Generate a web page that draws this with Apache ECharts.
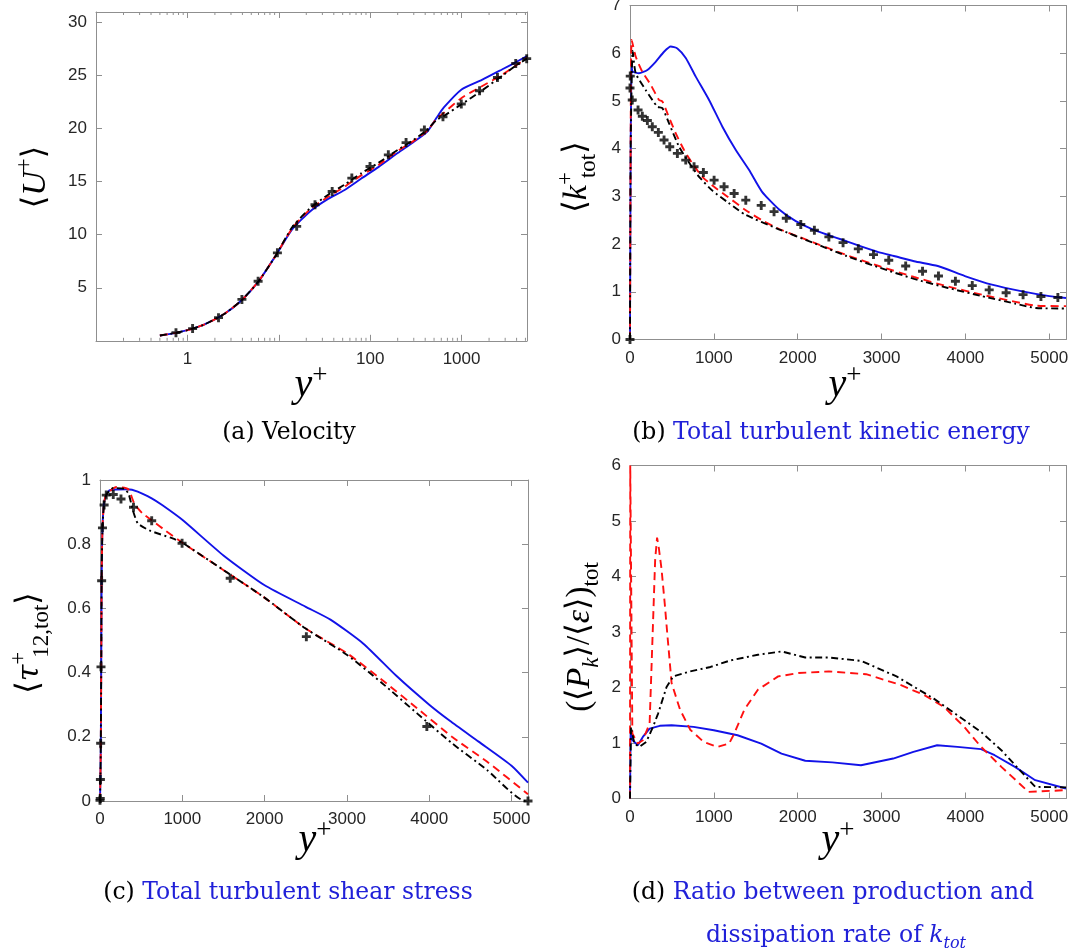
<!DOCTYPE html>
<html><head><meta charset="utf-8">
<script src="https://cdn.jsdelivr.net/npm/echarts@6/dist/echarts.min.js"></script>
<style>html,body{margin:0;padding:0;background:#fff}#c{width:1073px;height:949px}</style>
</head><body><div id="c"></div>
<script>
// ---------- Panel (a): mean velocity (log x) ----------
const A_X = [0.5, 0.75, 1, 1.5, 2.5, 3.9, 6, 9.2, 14, 22, 35, 52, 80, 124, 200, 294, 420, 530, 640, 1000, 1670, 2800, 4000, 5200];
const A_BLUE = [0.5, 0.75, 1.0, 1.5, 2.5, 3.8, 5.6, 8.0, 10.5, 12.2, 13.4, 14.2, 15.3, 16.4, 17.7, 18.7, 19.7, 21.0, 22.0, 23.7, 24.6, 25.6, 26.3, 26.85];
const A_RED  = [0.5, 0.75, 1.0, 1.5, 2.5, 3.8, 5.6, 8.0, 10.6, 12.4, 13.6, 14.5, 15.6, 16.6, 17.9, 18.8, 19.8, 20.9, 21.5, 22.9, 24.0, 25.1, 26.0, 26.7];
const A_BLACK= [0.5, 0.75, 1.0, 1.5, 2.5, 3.8, 5.6, 8.0, 10.7, 12.5, 13.8, 14.7, 15.8, 16.8, 18.0, 18.9, 19.9, 20.8, 21.2, 22.3, 23.6, 25.0, 26.0, 26.6];
const A_DNS_X = [0.75, 1.14, 2.19, 3.95, 5.94, 9.66, 15.7, 24.9, 38.4, 63, 99.6, 158, 247, 392, 626, 993, 1574, 2470, 3916, 5160];
const A_DNS_Y = [0.77, 1.15, 2.18, 3.9, 5.62, 8.29, 10.79, 12.83, 14.08, 15.34, 16.43, 17.53, 18.69, 19.88, 21.13, 22.32, 23.57, 24.83, 26.15, 26.6];
const A_MINOR_TICKS = [0.2,0.3,0.4,0.5,0.6,0.7,0.8,0.9, 2,3,4,5,6,7,8,9, 20,30,40,50,60,70,80,90, 200,300,400,500,600,700,800,900, 2000,3000,4000,5000];
const A_X_LABELS = ['1', '100', '1000'];

// ---------- Panel (b): total turbulent kinetic energy ----------
const B_BLUE_X = [0, 8, 20, 30, 107, 207, 306, 406, 486, 565, 665, 784, 943, 1102, 1262, 1421, 1573, 1775, 1977, 2178, 2582, 2985, 3147, 3389, 3671, 3994, 4316, 4679, 5002, 5200];
const B_BLUE_Y = [0, 4.0, 5.79, 5.62, 5.58, 5.65, 5.82, 6.03, 6.14, 6.10, 5.90, 5.51, 5.02, 4.46, 3.97, 3.55, 3.10, 2.73, 2.48, 2.31, 2.06, 1.82, 1.75, 1.64, 1.54, 1.33, 1.15, 1.01, 0.91, 0.87];
const B_RED_X = [0, 8, 20, 68, 147, 247, 346, 386, 446, 546, 645, 744, 863, 1003, 1143, 1372, 1573, 1800, 2017, 2582, 2985, 3389, 3792, 4195, 4599, 4841, 5200];
const B_RED_Y = [0, 4.2, 6.28, 5.93, 5.61, 5.34, 5.02, 4.99, 4.74, 4.32, 3.97, 3.69, 3.41, 3.20, 3.02, 2.72, 2.50, 2.30, 2.15, 1.77, 1.53, 1.31, 1.11, 0.94, 0.79, 0.71, 0.70];
const B_BLACK_X = [0, 8, 32, 68, 187, 326, 386, 466, 585, 684, 824, 983, 1170, 1372, 1775, 2178, 2582, 2985, 3389, 3792, 4195, 4599, 4841, 5200];
const B_BLACK_Y = [0, 4.0, 6.05, 5.58, 5.23, 4.88, 4.85, 4.53, 4.04, 3.76, 3.41, 3.12, 2.87, 2.62, 2.31, 2.03, 1.75, 1.50, 1.27, 1.08, 0.91, 0.75, 0.66, 0.65];
const B_DNS_X = [0, 0, 3, 27, 96, 147, 207, 266, 338, 406, 474, 565, 665, 764, 875, 1003, 1122, 1242, 1381, 1565, 1718, 1864, 2037, 2199, 2372, 2541, 2723, 2904, 3086, 3288, 3489, 3679, 3881, 4082, 4284, 4486, 4688, 4901, 5103];
const B_DNS_Y = [0, 5.27, 5.52, 5.02, 4.81, 4.68, 4.59, 4.46, 4.34, 4.18, 4.04, 3.90, 3.76, 3.62, 3.50, 3.34, 3.20, 3.06, 2.92, 2.81, 2.68, 2.54, 2.41, 2.29, 2.15, 2.03, 1.90, 1.78, 1.66, 1.54, 1.43, 1.33, 1.22, 1.13, 1.04, 0.98, 0.94, 0.90, 0.88];

// ---------- Panel (c): total turbulent shear stress ----------
const C_BLUE_X = [0, 5, 10, 15, 20, 30, 50, 80, 119, 331, 458, 628, 755, 1000, 1500, 2000, 2500, 2800, 3200, 3600, 4000, 4250, 4600, 5000, 5200];
const C_BLUE_Y = [0, 0.07, 0.18, 0.42, 0.69, 0.85, 0.93, 0.955, 0.968, 0.971, 0.964, 0.943, 0.922, 0.876, 0.765, 0.672, 0.605, 0.565, 0.49, 0.39, 0.30, 0.25, 0.185, 0.11, 0.057];
const C_RED_X = [0, 5, 10, 15, 20, 30, 50, 80, 200, 340, 420, 520, 628, 797, 1010, 1561, 1985, 2494, 3003, 3428, 3852, 4276, 4700, 5200];
const C_RED_Y = [0, 0.07, 0.18, 0.42, 0.69, 0.85, 0.93, 0.955, 0.978, 0.972, 0.925, 0.895, 0.875, 0.842, 0.803, 0.709, 0.636, 0.538, 0.46, 0.377, 0.289, 0.2, 0.123, 0.021];
const C_BLACK_X = [0, 5, 10, 15, 20, 30, 50, 80, 161, 300, 350, 400, 460, 600, 882, 1010, 1561, 1985, 2494, 3003, 3428, 3852, 4276, 4700, 5167, 5200];
const C_BLACK_Y = [0, 0.07, 0.18, 0.42, 0.69, 0.85, 0.93, 0.955, 0.975, 0.972, 0.955, 0.905, 0.865, 0.843, 0.818, 0.803, 0.709, 0.636, 0.538, 0.455, 0.367, 0.273, 0.18, 0.097, 0.0, 0.0];
const C_DNS_X = [0, 3, 5, 8, 12, 20, 30, 50, 76, 161, 255, 407, 628, 997, 1582, 2507, 3971, 5200];
const C_DNS_Y = [0.002, 0.008, 0.067, 0.18, 0.418, 0.686, 0.851, 0.922, 0.953, 0.955, 0.941, 0.915, 0.873, 0.803, 0.694, 0.512, 0.232, 0.0];

// ---------- Panel (d): production / dissipation ratio ----------
const D_BLUE_X = [0, 8, 32, 93, 153, 234, 355, 496, 758, 1000, 1283, 1565, 1807, 2090, 2413, 2755, 3139, 3380, 3663, 3905, 4187, 4349, 4591, 4833, 5200];
const D_BLUE_Y = [0, 1.23, 1.05, 0.96, 1.11, 1.26, 1.31, 1.32, 1.29, 1.23, 1.14, 0.99, 0.81, 0.68, 0.65, 0.60, 0.72, 0.84, 0.96, 0.93, 0.89, 0.78, 0.57, 0.33, 0.18];
const D_RED_X = [0, 3, 8, 28, 93, 153, 234, 300, 323, 345, 375, 415, 444, 496, 597, 718, 879, 1041, 1182, 1243, 1364, 1525, 1767, 2009, 2372, 2816, 3219, 3502, 3744, 3986, 4187, 4429, 4752, 5200];
const D_RED_Y = [0, 6, 6, 1.17, 0.99, 1.05, 1.35, 4.3, 4.7, 4.5, 4.15, 3.5, 2.98, 2.08, 1.6, 1.24, 1.02, 0.93, 0.99, 1.17, 1.6, 1.96, 2.2, 2.26, 2.29, 2.24, 2.05, 1.87, 1.65, 1.29, 0.93, 0.57, 0.12, 0.15];
const D_BLACK_X = [0, 12, 52, 113, 194, 274, 335, 436, 516, 718, 960, 1202, 1525, 1807, 2090, 2372, 2755, 3179, 3623, 4187, 4429, 4631, 4833, 5200];
const D_BLACK_Y = [0, 1.29, 0.99, 0.93, 1.02, 1.29, 1.53, 2.01, 2.2, 2.29, 2.37, 2.49, 2.59, 2.65, 2.54, 2.54, 2.48, 2.2, 1.8, 1.2, 0.87, 0.54, 0.21, 0.2];

// ---------- styling ----------
const AXC = '#8f8f8f', LBL = '#262626';
const BLUE = '#1212e8', RED = '#ff1010', BLK = '#000000', CAP_BLUE = '#2020d8';
const TICKFONT = "'Liberation Sans', Arial, Helvetica, sans-serif";
const SERIF = "'Liberation Serif', 'Times New Roman', serif";
const DSERIF = "'DejaVu Serif', serif";
const CAPFONT = "'DejaVu Serif', serif";

const zip = (xs, ys) => xs.map((x, i) => [x, ys[i]]);
const grids = [
  {left: 96, top: 12, width: 431, height: 328.8},
  {left: 630, top: 5.5, width: 436, height: 334},
  {left: 100, top: 480, width: 428, height: 321},
  {left: 630, top: 465.5, width: 436, height: 333}
].map(g => Object.assign({containLabel: false, outerBoundsMode: 'none', show: false}, g));

const plainFmt = v => String(Math.round(v * 1000) / 1000);

function axisBase(gi, pos, extra) {
  const showLbl = (pos === 'bottom' || pos === 'left');
  const a = {
    gridIndex: gi, position: pos, type: 'value',
    axisLine: {show: true, onZero: false, lineStyle: {color: AXC, width: 1}},
    axisTick: {show: true, inside: true, length: 6, lineStyle: {color: AXC, width: 1}},
    splitLine: {show: false}, minorTick: {show: false},
    axisLabel: {show: showLbl, color: LBL, fontSize: 17, fontFamily: TICKFONT,
                margin: (pos === 'bottom') ? 10 : 9, showMaxLabel: false, formatter: plainFmt},
    silent: true
  };
  return Object.assign(a, extra || {}, {axisLabel: Object.assign(a.axisLabel, (extra && extra.axisLabel) || {})});
}

const logFmt = v => {
  for (const s of A_X_LABELS) { const n = Number(s); if (Math.abs(v - n) < 1e-6 * n) return s; }
  return '';
};

const xAxes = [
  axisBase(0, 'bottom', {type: 'log', logBase: 10, min: 0.1, max: 5200, axisLabel: {formatter: logFmt, showMinLabel: true, showMaxLabel: true}}),
  axisBase(0, 'top', {type: 'log', logBase: 10, min: 0.1, max: 5200}),
  axisBase(1, 'bottom', {min: 0, max: 5200, interval: 1000}),
  axisBase(1, 'top', {min: 0, max: 5200, interval: 1000}),
  axisBase(2, 'bottom', {min: 0, max: 5200, interval: 1000}),
  axisBase(2, 'top', {min: 0, max: 5200, interval: 1000}),
  axisBase(3, 'bottom', {min: 0, max: 5200, interval: 1000}),
  axisBase(3, 'top', {min: 0, max: 5200, interval: 1000})
];
const yAxes = [
  axisBase(0, 'left', {min: 0, max: 31, interval: 5, axisLabel: {showMinLabel: false, showMaxLabel: false}}),
  axisBase(0, 'right', {min: 0, max: 31, interval: 5}),
  axisBase(1, 'left', {min: 0, max: 7, interval: 1, axisLabel: {showMaxLabel: true}}),
  axisBase(1, 'right', {min: 0, max: 7, interval: 1}),
  axisBase(2, 'left', {min: 0, max: 1, interval: 0.2, axisLabel: {showMaxLabel: true}}),
  axisBase(2, 'right', {min: 0, max: 1, interval: 0.2}),
  axisBase(3, 'left', {min: 0, max: 6, interval: 1, axisLabel: {showMaxLabel: true}}),
  axisBase(3, 'right', {min: 0, max: 6, interval: 1})
];

function lineSeries(gi, data, kind, smooth) {
  const st = {
    blue: {color: BLUE, type: 'solid'},
    red: {color: RED, type: [8, 5]},
    black: {color: BLK, type: [7, 3.5, 2, 3.5]}
  }[kind];
  return {
    type: 'line', xAxisIndex: gi * 2, yAxisIndex: gi * 2, data: data,
    showSymbol: false, symbol: 'none', smooth: smooth,
    lineStyle: {color: st.color, width: 1.9, type: st.type}, silent: true, animation: false,
    clip: true, z: kind === 'black' ? 4 : (kind === 'red' ? 3 : 2)
  };
}
const PLUS = 'path://M3.4,0L6.6,0L6.6,3.4L10,3.4L10,6.6L6.6,6.6L6.6,10L3.4,10L3.4,6.6L0,6.6L0,3.4L3.4,3.4Z';
function dnsSeries(gi, data) {
  return {type: 'scatter', xAxisIndex: gi * 2, yAxisIndex: gi * 2, data: data,
    symbol: PLUS, symbolSize: 9, itemStyle: {color: '#000'}, silent: true, animation: false, z: 5};
}
const minorTickSeries = {
  type: 'custom', xAxisIndex: 0, yAxisIndex: 0, silent: true, animation: false, clip: false, z: 1,
  data: A_MINOR_TICKS.map(v => [v, 0]),
  renderItem: (params, api) => {
    const v = api.value(0);
    const b = api.coord([v, 0]);
    const t = api.coord([v, 31]);
    return {type: 'group', children: [
      {type: 'line', shape: {x1: b[0], y1: b[1], x2: b[0], y2: b[1] - 3}, style: {stroke: AXC, lineWidth: 1}},
      {type: 'line', shape: {x1: t[0], y1: t[1], x2: t[0], y2: t[1] + 3}, style: {stroke: AXC, lineWidth: 1}}
    ]};
  }
};

const SM = 0.2;
const series = [
  minorTickSeries,
  lineSeries(0, zip(A_X, A_BLUE), 'blue', SM),
  lineSeries(0, zip(A_X, A_RED), 'red', SM),
  lineSeries(0, zip(A_X, A_BLACK), 'black', SM),
  dnsSeries(0, zip(A_DNS_X, A_DNS_Y)),
  lineSeries(1, zip(B_BLUE_X, B_BLUE_Y), 'blue', SM),
  lineSeries(1, zip(B_RED_X, B_RED_Y), 'red', SM),
  lineSeries(1, zip(B_BLACK_X, B_BLACK_Y), 'black', SM),
  dnsSeries(1, zip(B_DNS_X, B_DNS_Y)),
  lineSeries(2, zip(C_BLUE_X, C_BLUE_Y), 'blue', SM),
  lineSeries(2, zip(C_RED_X, C_RED_Y), 'red', SM),
  lineSeries(2, zip(C_BLACK_X, C_BLACK_Y), 'black', SM),
  dnsSeries(2, zip(C_DNS_X, C_DNS_Y)),
  lineSeries(3, zip(D_BLUE_X, D_BLUE_Y), 'blue', false),
  lineSeries(3, zip(D_RED_X, D_RED_Y), 'red', false),
  lineSeries(3, zip(D_BLACK_X, D_BLACK_Y), 'black', false)
];

// ---------- math-like titles (rich text) ----------
const M = {
  n:   {fontFamily: SERIF, fontSize: 33, fill: '#000', lineHeight: 46},
  br:  {fontFamily: DSERIF, fontSize: 32, fill: '#000', lineHeight: 46},
  i:   {fontFamily: SERIF, fontSize: 34, fontStyle: 'italic', fill: '#000', lineHeight: 46},
  ig:  {fontFamily: DSERIF, fontSize: 30, fontStyle: 'italic', fill: '#000', lineHeight: 46},
  sp:  {fontFamily: SERIF, fontSize: 23, fill: '#000', verticalAlign: 'top', lineHeight: 22},
  sps: {fontFamily: SERIF, fontSize: 23, fill: '#000', verticalAlign: 'top', lineHeight: 20, width: 1, padding: [0, 0, 0, 6]},
  sb:  {fontFamily: SERIF, fontSize: 23, fill: '#000', verticalAlign: 'bottom', lineHeight: 28},
  sbi: {fontFamily: SERIF, fontSize: 23, fontStyle: 'italic', fill: '#000', verticalAlign: 'bottom', lineHeight: 28}
};
const X = {
  i:  {fontFamily: SERIF, fontSize: 40, fontStyle: 'italic', fill: '#000', lineHeight: 46},
  sp: {fontFamily: SERIF, fontSize: 27, fill: '#000', verticalAlign: 'top', lineHeight: 24}
};
const CAP = {
  k:  {fontFamily: CAPFONT, fontSize: 23.5, fill: '#000', lineHeight: 32},
  b:  {fontFamily: CAPFONT, fontSize: 23.5, fill: CAP_BLUE, lineHeight: 32},
  bi: {fontFamily: CAPFONT, fontSize: 23.5, fontStyle: 'italic', fill: CAP_BLUE, lineHeight: 32},
  bs: {fontFamily: CAPFONT, fontSize: 16, fontStyle: 'italic', fill: CAP_BLUE, verticalAlign: 'bottom', lineHeight: 25}
};
function ytitle(x, y, text) {
  return {type: 'text', x: x, y: y, rotation: Math.PI / 2, silent: true,
    style: {text: text, rich: M, align: 'center', verticalAlign: 'middle'}};
}
function xtitle(x, y) {
  return {type: 'text', x: x, y: y, silent: true,
    style: {text: '{i|y}{sp|+}', rich: X, align: 'center', verticalAlign: 'middle'}};
}
function caption(x, y, text) {
  return {type: 'text', x: x, y: y, silent: true,
    style: {text: text, rich: CAP, align: 'center', verticalAlign: 'middle'}};
}

const graphic = [
  ytitle(36, 177, '{br|⟨}{i|U}{sp|+}{br|⟩}'),
  ytitle(577, 177, '{br|⟨}{i|k}{sps|+}{sb|tot}{br|⟩}'),
  ytitle(30, 643, '{br|⟨}{ig|τ}{sps|+}{sb|12,tot}{br|⟩}'),
  ytitle(580, 637, '{n|(}{br|⟨}{i|P}{sbi|k}{br|⟩}{n|/}{br|⟨}{i|ε}{br|⟩}{n|)}{sb|tot}'),
  xtitle(311, 385), xtitle(845, 385), xtitle(315, 840), xtitle(838, 840),
  caption(289, 433, '{k|(a) Velocity}'),
  caption(831, 433, '{k|(b) }{b|Total turbulent kinetic energy}'),
  caption(288, 893, '{k|(c) }{b|Total turbulent shear stress}'),
  caption(833, 893, '{k|(d) }{b|Ratio between production and}'),
  caption(836, 936, '{b|dissipation rate of }{bi|k}{bs|tot}')
];

const chart = echarts.init(document.getElementById('c'), null, {renderer: 'canvas'});
chart.setOption({
  backgroundColor: '#ffffff',
  animation: false,
  grid: grids, xAxis: xAxes, yAxis: yAxes, series: series, graphic: graphic
});
</script></body></html>
